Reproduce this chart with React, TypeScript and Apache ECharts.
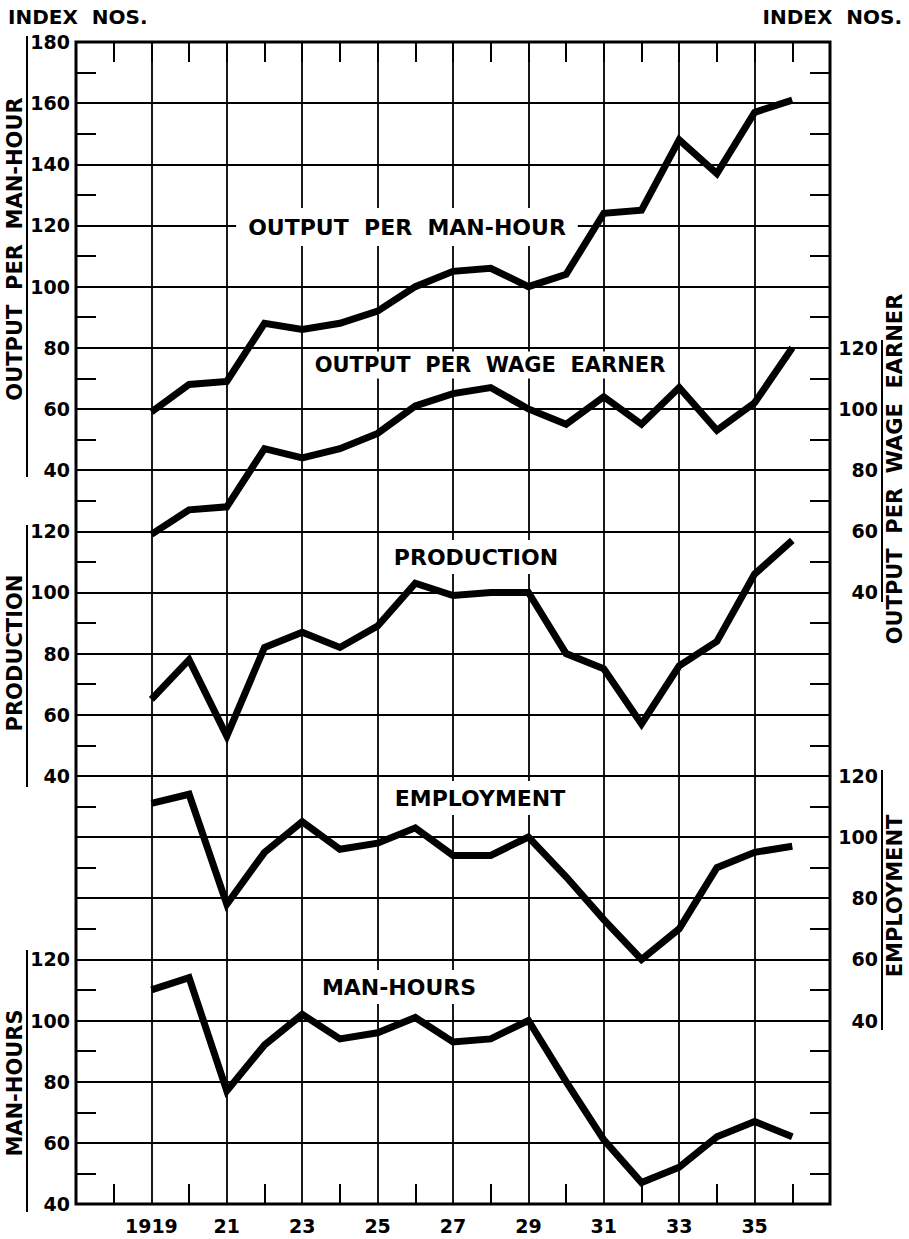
import React, { useEffect, useRef } from "react";
import * as echarts from "echarts";

const years = [1919, 1920, 1921, 1922, 1923, 1924, 1925, 1926, 1927, 1928, 1929, 1930, 1931, 1932, 1933, 1934, 1935, 1936];
const outputPerManHour = [59, 68, 69, 88, 86, 88, 92, 100, 105, 106, 100, 104, 124, 125, 148, 137, 157, 161];
const outputPerWageEarner = [59, 67, 68, 87, 84, 87, 92, 101, 105, 107, 100, 95, 104, 95, 107, 93, 102, 120];
const production = [65, 78, 53, 82, 87, 82, 89, 103, 99, 100, 100, 80, 75, 57, 76, 84, 106, 117];
const employment = [111, 114, 78, 95, 105, 96, 98, 103, 94, 94, 100, 87, 73, 60, 70, 90, 95, 97];
const manHours = [110, 114, 77, 92, 102, 94, 96, 101, 93, 94, 100, 80, 61, 47, 52, 62, 67, 62];

const seriesNames = ["OUTPUT  PER  MAN-HOUR", "OUTPUT  PER  WAGE  EARNER", "PRODUCTION", "EMPLOYMENT", "MAN-HOURS"];
const axisTitles = ["OUTPUT  PER  MAN-HOUR", "PRODUCTION", "MAN-HOURS", "OUTPUT  PER  WAGE  EARNER", "EMPLOYMENT"];
const unitLabel = "INDEX  NOS.";

const FONT = '"DejaVu Sans", "Liberation Sans", sans-serif';

export default function App() {
  const ref = useRef<HTMLDivElement>(null);

  useEffect(() => {
    const chart = echarts.init(ref.current as HTMLDivElement, null, { renderer: "svg" });

    const toPairs = (arr: number[]) => years.map((y, i) => [y, arr[i]]);

    const yAxisDef = (min: number, max: number, position: "left" | "right", lo: number, hi: number, main: boolean, split: boolean) => ({
      type: "value",
      gridIndex: 0,
      position,
      min,
      max,
      interval: 20,
      axisLine: { show: false, onZero: false },
      axisTick: { show: false, inside: true },
      minorTick: main
        ? { show: true, splitNumber: 2, length: 20, lineStyle: { color: "#000", width: 2 } }
        : { show: false },
      splitLine: split ? { show: true, lineStyle: { color: "#000", width: 1.8 } } : { show: false },
      minorSplitLine: { show: false },
      axisLabel: {
        show: true,
        color: "#000",
        fontFamily: FONT,
        fontWeight: "bold",
        fontSize: 19,
        align: "right",
        margin: position === "left" ? 6 : 48,
        formatter: (v: number) => (v >= lo && v <= hi ? String(v) : ""),
      },
    });

    const xAxisDef = (gridIndex: number, labels: boolean) => ({
      type: "value",
      gridIndex,
      position: "bottom",
      min: 1917,
      max: 1937,
      interval: 2,
      axisLine: { show: false, onZero: false },
      axisTick: { show: false, inside: true },
      minorTick: { show: true, splitNumber: 2, length: 20, lineStyle: { color: "#000", width: 2 } },
      splitLine: { show: true, lineStyle: { color: "#000", width: 1.8 } },
      axisLabel: {
        show: true,
        color: "#000",
        fontFamily: FONT,
        fontWeight: "bold",
        fontSize: 19,
        margin: 12,
        formatter: (v: number) =>
          !labels ? "" : v === 1919 ? "1919" : v > 1919 && v < 1937 ? String(v).slice(2) : "",
      },
    });

    const line = (arr: number[], yIndex: number) => ({
      type: "line",
      data: toPairs(arr),
      xAxisIndex: 0,
      yAxisIndex: yIndex,
      symbol: "none",
      silent: true,
      z: 3,
      lineStyle: { color: "#000", width: 7, join: "miter", cap: "butt" },
    });

    const txt = (text: string, x: number, y: number, size: number, opts: any = {}) => ({
      type: "text",
      x,
      y,
      z: 1,
      rotation: opts.rotation || 0,
      style: {
        text,
        fill: "#000",
        fontFamily: FONT,
        fontWeight: "bold",
        fontSize: size,
        align: opts.align || "center",
        textAlign: opts.align || "center",
        verticalAlign: "middle",
        textVerticalAlign: "middle",
        backgroundColor: opts.bg ? "#fff" : undefined,
        padding: opts.padding,
      },
    });

    const vline = (x: number, y1: number, y2: number) => ({
      type: "line",
      z: 1,
      shape: { x1: x, y1, x2: x, y2 },
      style: { stroke: "#000", lineWidth: 2 },
    });

    const option = {
      animation: false,
      backgroundColor: "#fff",
      textStyle: { fontFamily: FONT },
      grid: [
        {
          left: 76,
          right: 79,
          top: 42,
          bottom: 35,
          show: true,
          borderColor: "#000",
          borderWidth: 3,
          backgroundColor: "transparent",
          containLabel: false,
        },
        // thin strip along the top edge: its bottom axis carries the top ticks, pointing up
        { left: 76, right: 79, top: 42, height: 20, show: false, containLabel: false },
      ],
      xAxis: [xAxisDef(0, true), xAxisDef(1, false)],
      yAxis: [
        yAxisDef(-200, 180, "left", 40, 180, true, false),
        yAxisDef(-100, 280, "left", 40, 120, false, false),
        yAxisDef(40, 420, "left", 40, 120, false, true),
        yAxisDef(-160, 220, "right", 40, 120, true, false),
        yAxisDef(-20, 360, "right", 40, 120, false, false),
        {
          type: "value",
          gridIndex: 1,
          min: 0,
          max: 1,
          axisLine: { show: false, onZero: false },
          axisTick: { show: false },
          axisLabel: { show: false },
          splitLine: { show: false },
        },
      ],
      series: [
        line(outputPerManHour, 0),
        line(outputPerWageEarner, 3),
        line(production, 1),
        line(employment, 4),
        line(manHours, 2),
      ],
      graphic: [
        txt(unitLabel, 8, 17, 20, { align: "left" }),
        txt(unitLabel, 902, 17, 20, { align: "right" }),
        // in-plot series labels
        txt(seriesNames[0], 407, 227, 22, { bg: true, padding: [8, 12] }),
        txt(seriesNames[1], 490, 365, 21, { bg: true, padding: [3, 10] }),
        txt(seriesNames[2], 476, 557, 22, { bg: true, padding: [6, 12] }),
        txt(seriesNames[3], 480, 798, 22, { bg: true, padding: [6, 12] }),
        txt(seriesNames[4], 399, 987, 22, { bg: true, padding: [6, 12] }),
        // axis titles
        txt(axisTitles[0], 15, 249, 21, { rotation: Math.PI / 2 }),
        txt(axisTitles[1], 15, 653, 21, { rotation: Math.PI / 2 }),
        txt(axisTitles[2], 15, 1083, 21, { rotation: Math.PI / 2 }),
        txt(axisTitles[3], 895, 469, 21, { rotation: Math.PI / 2 }),
        txt(axisTitles[4], 895, 896, 21, { rotation: Math.PI / 2 }),
        // bracket lines
        vline(27, 36, 477),
        vline(27, 525, 787),
        vline(27, 950, 1212),
        vline(882, 340, 602),
        vline(882, 770, 1030),
      ],
    };

    chart.setOption(option as any);
    return () => chart.dispose();
  }, []);

  return (
    <div
      ref={ref}
      style={{ position: "absolute", left: 0, top: 0, width: 909, height: 1239, background: "#fff" }}
    />
  );
}
